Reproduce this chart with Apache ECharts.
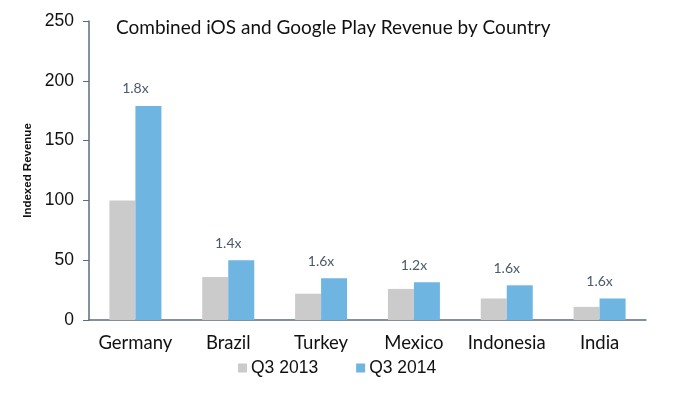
<!DOCTYPE html>
<html>
<head>
<meta charset="utf-8">
<script src="https://cdn.jsdelivr.net/npm/echarts@6/dist/echarts.min.js"></script>
<style>
  html, body { margin: 0; padding: 0; background: #fff; }
  #main { width: 680px; height: 399px; }
</style>
</head>
<body>
<div id="main"></div>
<script>
var countries = ['Germany', 'Brazil', 'Turkey', 'Mexico', 'Indonesia', 'India'];
var q32013 = [100, 36, 22, 26, 18, 11];
var q32014 = [179, 50, 35, 31.5, 29, 18];
var growth = ['1.8x', '1.4x', '1.6x', '1.2x', '1.6x', '1.6x'];
var yTicks = [0, 50, 100, 150, 200, 250];

var axisColor = '#5b6e80';
var chart = echarts.init(document.getElementById('main'));
chart.setOption({
    animation: false,
    title: {
        text: 'Combined iOS and Google Play Revenue by Country',
        left: 111,
        top: 13,
        textStyle: {
            fontFamily: 'Lato',
            fontWeight: 'normal',
            fontSize: 19,
            color: '#111'
        }
    },
    legend: {
        left: 233,
        top: 354,
        itemWidth: 9,
        itemHeight: 9,
        itemGap: 38,
        icon: 'rect',
        textStyle: {
            fontFamily: 'Liberation Sans',
            fontSize: 17.5,
            color: '#111',
            padding: [0, 0, 0, -1]
        },
        data: ['Q3 2013', 'Q3 2014']
    },
    grid: {
        left: 89,
        right: 34,
        top: 21,
        bottom: 79
    },
    xAxis: {
        type: 'category',
        data: countries,
        axisLine: { lineStyle: { color: axisColor, width: 1.5 } },
        axisTick: { length: 5, lineStyle: { color: axisColor } },
        axisLabel: {
            interval: 0,
            margin: 14,
            fontFamily: 'Lato',
            fontSize: 18.5,
            color: '#111'
        }
    },
    yAxis: {
        type: 'value',
        min: yTicks[0],
        max: yTicks[yTicks.length - 1],
        interval: 50,
        name: 'Indexed Revenue',
        nameLocation: 'middle',
        nameGap: 51,
        nameTextStyle: {
            fontFamily: 'Liberation Sans',
            fontWeight: 'bold',
            fontSize: 11.5,
            color: '#111'
        },
        splitLine: { show: false },
        axisLine: { show: true, lineStyle: { color: axisColor, width: 1.5 } },
        axisTick: { show: true, length: 6, lineStyle: { color: axisColor } },
        axisLabel: {
            margin: 15,
            fontFamily: 'Liberation Sans',
            fontSize: 17.5,
            color: '#111'
        }
    },
    series: [
        {
            name: 'Q3 2013',
            type: 'bar',
            data: q32013,
            barWidth: 26,
            barGap: '0%',
            itemStyle: { color: '#cbcbcb' }
        },
        {
            name: 'Q3 2014',
            type: 'bar',
            data: q32014,
            barWidth: 26,
            itemStyle: { color: '#6eb5e2' },
            label: {
                show: true,
                position: 'top',
                distance: 10,
                offset: [-13, 0],
                formatter: function (p) { return growth[p.dataIndex]; },
                fontFamily: 'Lato',
                fontSize: 14,
                color: '#4b5a6b'
            }
        }
    ]
});
</script>
</body>
</html>
